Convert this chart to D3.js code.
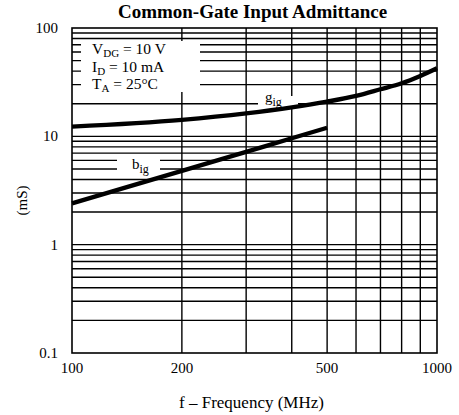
<!DOCTYPE html>
<html>
<head>
<meta charset="utf-8">
<script src="https://cdn.jsdelivr.net/npm/d3@7"></script>
<style>
  body { margin: 0; background: #fff; }
  svg text { font-family: "Liberation Serif", "DejaVu Serif", serif; fill: #000; }
</style>
</head>
<body>
<div id="chart"></div>
<script>
// frequency points (MHz)
const freqG = [100, 200, 300, 400, 500, 600, 700, 800, 900, 1000];
// g_ig - input conductance (mS)
const gIg = [12.3, 14.2, 16.3, 18.5, 20.9, 23.6, 27.2, 30.9, 36.1, 42.5];
// b_ig - input susceptance (mS), only drawn up to 500 MHz
const freqB = [100, 200, 300, 400, 500];
const bIg = [2.4, 4.8, 7.2, 9.6, 12];

const xTicks = [100, 200, 500, 1000];
const yTicks = [0.1, 1, 10, 100];
const yTickLabels = ["0.1", "1", "10", "100"];

const W = 459, H = 415;
const margin = { top: 28, right: 22, bottom: 62, left: 72 };
const iw = W - margin.left - margin.right;
const ih = H - margin.top - margin.bottom;

const x = d3.scaleLog().domain([100, 1000]).range([0, iw]);
const y = d3.scaleLog().domain([0.1, 100]).range([ih, 0]);

const svg = d3.select("#chart").append("svg")
  .attr("width", W).attr("height", H);

svg.append("text")
  .attr("x", margin.left + iw / 2 - 2).attr("y", 18)
  .attr("text-anchor", "middle")
  .attr("font-size", 19).attr("font-weight", "bold")
  .text("Common-Gate Input Admittance");

const g = svg.append("g")
  .attr("transform", `translate(${margin.left},${margin.top})`);

// grid: every 1..9 step of each decade
const xGrid = d3.range(2, 10).map(d => d * 100);
const yGrid = [];
[0.1, 1, 10].forEach(dec => d3.range(2, 10).forEach(k => yGrid.push(+(k * dec).toFixed(2))));
yGrid.push(1, 10);

const grid = g.append("g").attr("stroke", "#000").attr("stroke-width", 1.4);
grid.selectAll("line.h").data(yGrid).enter().append("line")
  .attr("class", "h")
  .attr("x1", 0).attr("x2", iw)
  .attr("y1", d => y(d)).attr("y2", d => y(d));
grid.selectAll("line.v").data(xGrid).enter().append("line")
  .attr("class", "v")
  .attr("y1", 0).attr("y2", ih)
  .attr("x1", d => x(d)).attr("x2", d => x(d));

// white boxes that break the grid behind the conditions block and the curve labels
const blank = (bx, by, bw, bh) => g.append("rect")
  .attr("x", bx).attr("y", by).attr("width", bw).attr("height", bh)
  .attr("fill", "#fff");
blank(9, 13, 119, 51);
blank(45, 128, 43, 18);
blank(186, 68, 40, 11);

// frame
g.append("rect")
  .attr("width", iw).attr("height", ih)
  .attr("fill", "none").attr("stroke", "#000").attr("stroke-width", 1.6);

// curves
const line = d3.line()
  .x(d => x(d[0])).y(d => y(d[1]))
  .curve(d3.curveMonotoneX);

g.append("path")
  .datum(freqG.map((f, i) => [f, gIg[i]]))
  .attr("d", line)
  .attr("fill", "none").attr("stroke", "#000").attr("stroke-width", 4.4);

g.append("path")
  .datum(freqB.map((f, i) => [f, bIg[i]]))
  .attr("d", line)
  .attr("fill", "none").attr("stroke", "#000").attr("stroke-width", 4.4);

// curve labels
const lab = (gx, gy, main, sub) => {
  const t = g.append("text").attr("x", gx).attr("y", gy).attr("font-size", 15);
  t.append("tspan").text(main);
  t.append("tspan").attr("dy", 4).attr("font-size", 12).text(sub);
};
lab(193, 74, "g", "ig");
lab(60, 141, "b", "ig");

// test conditions
const condRows = [["V", "DG", " = 10 V"], ["I", "D", " = 10 mA"], ["T", "A", " = 25°C"]];
condRows.forEach((r, i) => {
  const t = g.append("text").attr("x", 20).attr("y", 26 + i * 17.5).attr("font-size", 15.5);
  t.append("tspan").text(r[0]);
  t.append("tspan").attr("dy", 3).attr("font-size", 11).text(r[1]);
  t.append("tspan").attr("dy", -3).text(r[2]);
});

// tick labels
g.selectAll("text.xt").data(xTicks).enter().append("text")
  .attr("class", "xt")
  .attr("x", d => x(d)).attr("y", ih + 20)
  .attr("text-anchor", "middle").attr("font-size", 15)
  .text(d => d);

g.selectAll("text.yt").data(yTicks).enter().append("text")
  .attr("class", "yt")
  .attr("x", -14).attr("y", d => y(d) + 5)
  .attr("text-anchor", "end").attr("font-size", 15)
  .text((d, i) => yTickLabels[i]);

// axis titles
svg.append("text")
  .attr("x", margin.left + iw / 2 - 3).attr("y", 408)
  .attr("text-anchor", "middle").attr("font-size", 17)
  .text("f – Frequency (MHz)");

svg.append("text")
  .attr("transform", `translate(27,${margin.top + ih / 2 + 10}) rotate(-90)`)
  .attr("text-anchor", "middle").attr("font-size", 15)
  .text("(mS)");
</script>
</body>
</html>
